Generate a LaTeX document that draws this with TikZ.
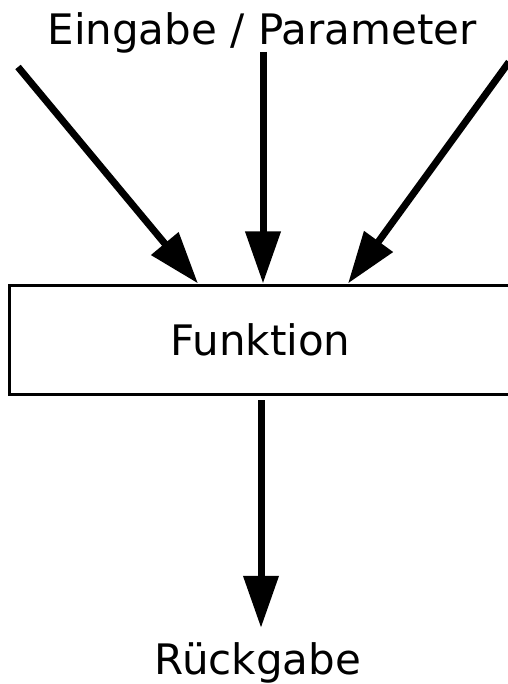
\documentclass[tikz,border=0pt]{standalone}
\usepackage{fontspec}
\setmainfont{DejaVu Sans}
\usetikzlibrary{arrows.meta,calc}

\begin{document}
\begin{tikzpicture}[x=1pt, y=-1pt,
  block/.style={rectangle, draw=black, line width=3pt, minimum width=503pt, minimum height=109pt, inner sep=0pt, font=\fontsize{42}{50}\selectfont},
  label/.style={anchor=base, inner sep=0pt, font=\fontsize{42}{50}\selectfont},
  line/.style={draw, line width=7pt, -{Triangle[length=52pt, width=34pt]}}]

  \useasboundingbox (0,0) rectangle (507,684);

  \node [label] (eingabe) at (262,45) {Eingabe / Parameter};
  \node [block] (funktion) at (260.5,339.5) {Funktion};
  \node [label] (rueckgabe) at (258,674) {Rückgabe};

  % inputs come in from above
  \coordinate (inleft) at (18,67);
  \coordinate (inmid) at (263,52);
  \coordinate (inright) at (509,62);
  \coordinate (out) at (261,400);

  \path [line] (inleft) -- ($(funktion.north)+(-62.5,0)$);
  \path [line] (inmid) -- ($(funktion.north)+(2.5,0)$);
  \path [line] (inright) -- ($(funktion.north)+(87.5,0)$);
  \path [line] (out) -- ($(rueckgabe.north)+(3,-14)$);
\end{tikzpicture}
\end{document}
